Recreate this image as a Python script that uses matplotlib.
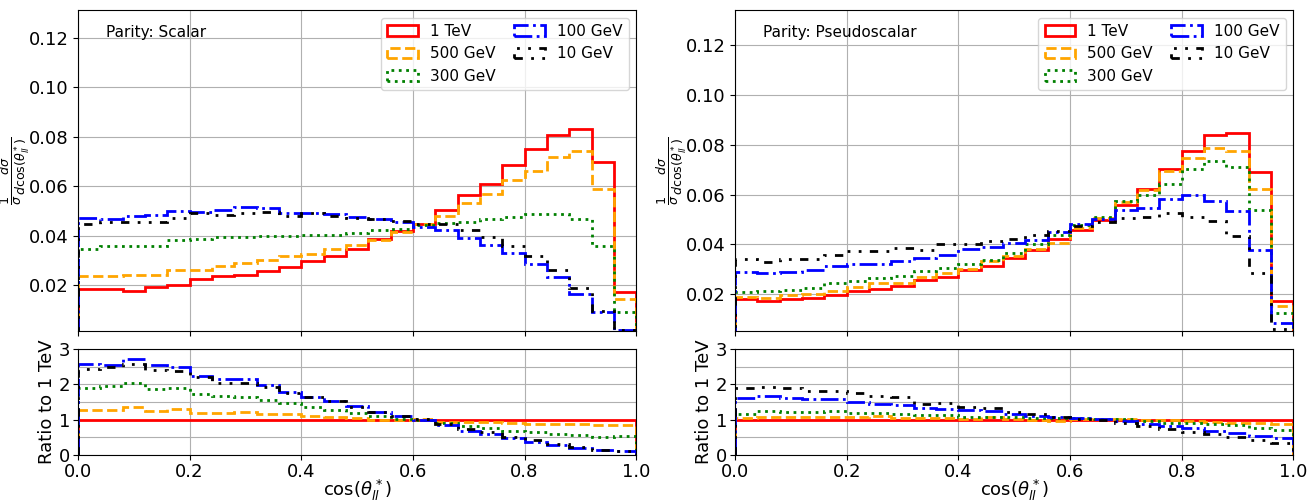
import numpy as np
import matplotlib
matplotlib.use("Agg")
import matplotlib.pyplot as plt
from matplotlib.ticker import MultipleLocator

# Bin edges in cos(theta*_ll)
edges = np.linspace(0.0, 1.0, 26)

masses = ["1 TeV", "500 GeV", "300 GeV", "100 GeV", "10 GeV"]

# Normalised distributions, parity: scalar
scalar_1tev = [0.0184, 0.0184, 0.0177, 0.0191, 0.0200, 0.0223, 0.0236, 0.0240, 0.0258, 0.0274,
               0.0298, 0.0317, 0.0345, 0.0387, 0.0418, 0.0446, 0.0506, 0.0565, 0.0611, 0.0688,
               0.0752, 0.0809, 0.0833, 0.0698, 0.0172]
scalar_500 = [0.0236, 0.0236, 0.0240, 0.0240, 0.0263, 0.0263, 0.0278, 0.0290, 0.0301, 0.0319,
              0.0328, 0.0345, 0.0364, 0.0382, 0.0415, 0.0449, 0.0479, 0.0533, 0.0570, 0.0624,
              0.0662, 0.0719, 0.0741, 0.0588, 0.0145]
scalar_300 = [0.0348, 0.0359, 0.0359, 0.0359, 0.0382, 0.0387, 0.0393, 0.0395, 0.0398, 0.0400,
              0.0401, 0.0401, 0.0413, 0.0422, 0.0428, 0.0445, 0.0452, 0.0456, 0.0467, 0.0476,
              0.0488, 0.0488, 0.0468, 0.0360, 0.0092]
scalar_100 = [0.0473, 0.0468, 0.0480, 0.0484, 0.0500, 0.0498, 0.0506, 0.0517, 0.0511, 0.0492,
              0.0492, 0.0487, 0.0476, 0.0467, 0.0457, 0.0436, 0.0425, 0.0391, 0.0362, 0.0332,
              0.0284, 0.0234, 0.0166, 0.0092, 0.0018]
scalar_10 = [0.0449, 0.0457, 0.0457, 0.0457, 0.0473, 0.0490, 0.0484, 0.0490, 0.0496, 0.0479,
             0.0490, 0.0481, 0.0471, 0.0468, 0.0460, 0.0449, 0.0446, 0.0422, 0.0395, 0.0360,
             0.0317, 0.0263, 0.0187, 0.0095, 0.0018]

# Normalised distributions, parity: pseudoscalar
pseudo_1tev = [0.0180, 0.0171, 0.0180, 0.0187, 0.0197, 0.0213, 0.0223, 0.0233, 0.0259, 0.0271,
               0.0296, 0.0313, 0.0344, 0.0379, 0.0420, 0.0459, 0.0497, 0.0557, 0.0624, 0.0704,
               0.0773, 0.0840, 0.0845, 0.0691, 0.0173]
pseudo_500 = [0.0190, 0.0183, 0.0196, 0.0203, 0.0213, 0.0231, 0.0244, 0.0244, 0.0268, 0.0284,
              0.0303, 0.0333, 0.0353, 0.0380, 0.0404, 0.0467, 0.0507, 0.0571, 0.0617, 0.0693,
              0.0747, 0.0787, 0.0776, 0.0624, 0.0153]
pseudo_300 = [0.0211, 0.0213, 0.0219, 0.0227, 0.0247, 0.0253, 0.0265, 0.0273, 0.0293, 0.0304,
              0.0320, 0.0337, 0.0367, 0.0400, 0.0436, 0.0476, 0.0511, 0.0573, 0.0600, 0.0643,
              0.0703, 0.0736, 0.0709, 0.0536, 0.0124]
pseudo_100 = [0.0289, 0.0287, 0.0291, 0.0299, 0.0313, 0.0320, 0.0320, 0.0332, 0.0347, 0.0356,
              0.0380, 0.0391, 0.0404, 0.0419, 0.0449, 0.0483, 0.0500, 0.0537, 0.0544, 0.0584,
              0.0597, 0.0576, 0.0533, 0.0376, 0.0083]
pseudo_10 = [0.0340, 0.0329, 0.0340, 0.0340, 0.0356, 0.0373, 0.0373, 0.0384, 0.0376, 0.0400,
             0.0400, 0.0412, 0.0423, 0.0436, 0.0453, 0.0473, 0.0491, 0.0504, 0.0509, 0.0524,
             0.0511, 0.0493, 0.0433, 0.0284, 0.0060]

panels = [
    ("Parity: Scalar", [scalar_1tev, scalar_500, scalar_300, scalar_100, scalar_10], (0.0014, 0.1313)),
    ("Parity: Pseudoscalar", [pseudo_1tev, pseudo_500, pseudo_300, pseudo_100, pseudo_10], (0.0052, 0.1340)),
]

colors = ["red", "orange", "green", "blue", "black"]
styles = ["-", "--", ":", "-.", (0, (3, 3, 1, 3, 1, 3))]
lw = 2.0

fig = plt.figure(figsize=(13.15, 5.01), dpi=100)

lefts = [0.0593, 0.559]
width = 0.4245

for (title, series, ylim), left in zip(panels, lefts):
    ax = fig.add_axes([left, 0.339, width, 0.641])
    rax = fig.add_axes([left, 0.0918, width, 0.2116], sharex=ax)

    ref = np.asarray(series[0])
    centers = 0.5 * (edges[:-1] + edges[1:])
    for vals, c, ls, lab in zip(series, colors, styles, masses):
        vals = np.asarray(vals)
        ax.hist(centers, bins=edges, weights=vals, histtype="step",
                color=c, linestyle=ls, linewidth=lw, label=lab)
        rax.hist(centers, bins=edges, weights=vals / ref, histtype="step",
                 color=c, linestyle=ls, linewidth=lw)

    ax.set_xlim(0, 1)
    ax.set_ylim(*ylim)
    ax.set_yticks([0.02, 0.04, 0.06, 0.08, 0.10, 0.12])
    ax.tick_params(labelsize=13, labelbottom=False)
    ax.grid(True, color="#b0b0b0", linewidth=0.8)
    ax.set_ylabel(r"$\frac{1}{\sigma}\frac{d\sigma}{d\cos(\theta^*_{ll})}$", fontsize=13)
    ax.yaxis.set_label_coords(-0.082, 0.5)
    ax.text(0.05, 0.93, title, transform=ax.transAxes, fontsize=11, va="center")
    ax.legend(ncol=2, fontsize=11, loc="upper right", handlelength=2.0,
              columnspacing=1.2, borderaxespad=0.5)

    rax.set_ylim(0, 3)
    rax.set_yticks([0, 1, 2, 3])
    rax.yaxis.set_minor_locator(MultipleLocator(0.5))
    rax.set_xticks([0, 0.2, 0.4, 0.6, 0.8, 1.0])
    rax.tick_params(labelsize=13, pad=2)
    rax.tick_params(which="minor", length=0)
    rax.grid(True, which="both", color="#b0b0b0", linewidth=0.8)
    rax.set_ylabel("Ratio to 1 TeV", fontsize=13, labelpad=2)
    rax.set_xlabel(r"$\cos(\theta^*_{ll})$", fontsize=13, labelpad=-2)

fig.savefig("out.png", dpi=100)
